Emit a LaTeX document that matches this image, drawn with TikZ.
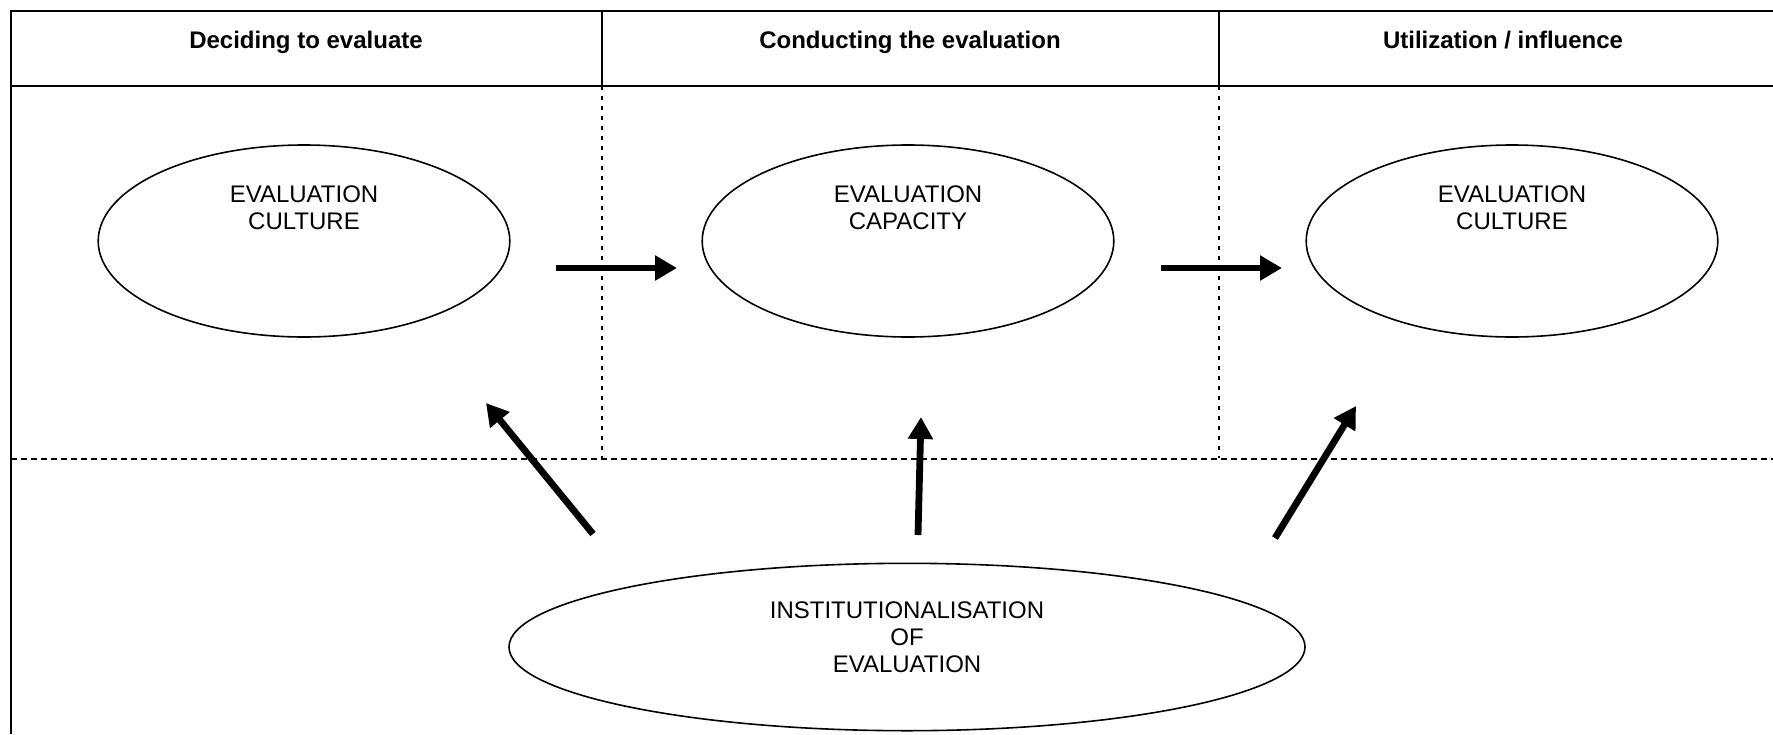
\documentclass[tikz,border=0pt]{standalone}
\usepackage{fontspec}
\setmainfont{Liberation Sans}
\usetikzlibrary{arrows.meta,shapes.geometric}
\begin{document}
\begin{tikzpicture}[x=0.5pt,y=-0.5pt,
  frameline/.style={line width=1pt},
  vdots/.style={line width=1pt,dash pattern=on 2pt off 3pt},
  hdash/.style={line width=1pt,dash pattern=on 3pt off 2pt},
  oval/.style={ellipse,draw,line width=0.8pt,inner sep=0pt},
  ovaltext/.style={align=center,font=\fontsize{12}{13.6}\selectfont},
  headtext/.style={font=\fontsize{12}{14}\selectfont\bfseries,text height=9pt,text depth=3pt},
  bigarrow/.style={line width=3.4pt,-{Triangle[length=11pt,width=12pt]}}
]
\useasboundingbox (0,0) rectangle (1773,734);
% frame
\draw[frameline] (1773,11) -- (11,11) -- (11,734);
\draw[frameline] (11,85.5) -- (1773,85.5);
\draw[frameline] (602,11) -- (602,85.5);
\draw[frameline] (1219,11) -- (1219,85.5);
\draw[vdots] (602,86) -- (602,458);
\draw[vdots] (1219,86) -- (1219,458);
\draw[hdash] (11,458.5) -- (1773,458.5);
% headers
\node[headtext] (h1) at (306,42) {Deciding to evaluate};
\node[headtext] (h2) at (910,42) {Conducting the evaluation};
\node[headtext] (h3) at (1503,42) {Utilization / influence};
% ellipses
\node[oval,minimum width=205.8pt,minimum height=96pt] (e1) at (304,241) {};
\node[oval,minimum width=205.8pt,minimum height=96pt] (e2) at (908,241) {};
\node[oval,minimum width=205.8pt,minimum height=96pt] (e3) at (1512,241) {};
\node[ovaltext] (t1) at (304,208) {EVALUATION\\CULTURE};
\node[ovaltext] (t2) at (908,208) {EVALUATION\\CAPACITY};
\node[ovaltext] (t3) at (1512,208) {EVALUATION\\CULTURE};
\node[oval,minimum width=398pt,minimum height=83.7pt] (e4) at (907,647) {};
\node[ovaltext] (t4) at (907,637) {INSTITUTIONALISATION\\OF\\EVALUATION};
% arrow endpoints
\coordinate (a1s) at (556,268);
\coordinate (a1e) at (677,268);
\coordinate (a2s) at (1161,268);
\coordinate (a2e) at (1282,268);
\coordinate (d1s) at (593,534);
\coordinate (d1e) at (486,403);
\coordinate (d2s) at (918,535);
\coordinate (d2e) at (921,417);
\coordinate (d3s) at (1275,538);
\coordinate (d3e) at (1356,406);
\draw[bigarrow] (a1s) -- (a1e);
\draw[bigarrow] (a2s) -- (a2e);
\draw[bigarrow] (d1s) -- (d1e);
\draw[bigarrow] (d2s) -- (d2e);
\draw[bigarrow] (d3s) -- (d3e);
\end{tikzpicture}
\end{document}
